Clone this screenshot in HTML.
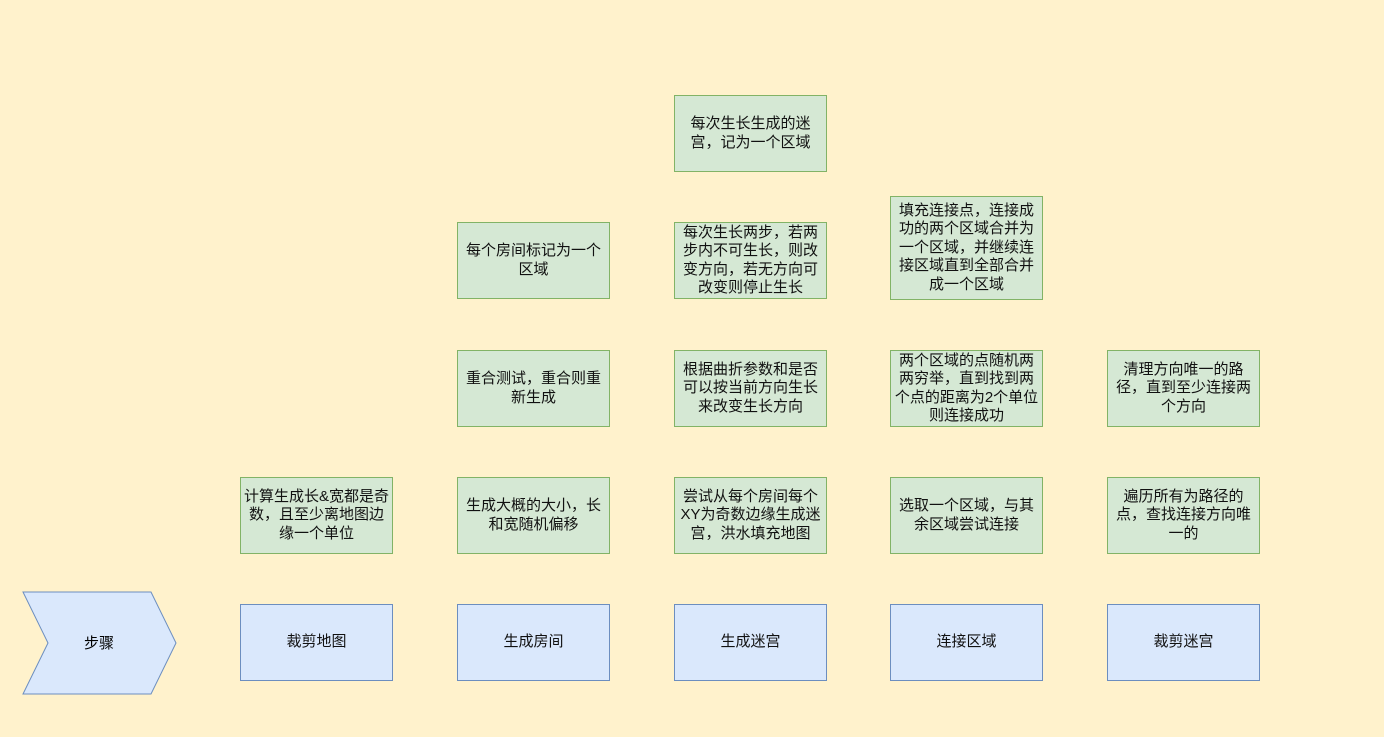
<!DOCTYPE html>
<html><head><meta charset="utf-8"><style>
body{margin:0;width:1384px;height:737px;background:#fff2cc;position:relative;overflow:hidden;font-family:"Liberation Sans","Noto Sans CJK SC",sans-serif;font-size:15px;color:#111}
.b{position:absolute;width:151px;height:75px;display:flex;align-items:center;justify-content:center;text-align:center;line-height:18.5px;box-sizing:content-box;white-space:nowrap}
.g{background:#d5e8d4;border:1px solid #82b366}
.u{background:#dae8fc;border:1px solid #6c8ebf}
</style></head><body>
<svg style="position:absolute;left:0;top:0" width="1384" height="737"><polygon points="23,592 151,592 176,643 151,694 23,694 48,643" fill="#dae8fc" stroke="#6c8ebf"/><text x="99" y="648" text-anchor="middle" font-size="15" font-family="Liberation Sans,Noto Sans CJK SC,sans-serif">步骤</text></svg>
<div class="b g" style="left:674px;top:95px">每次生长生成的迷<br>宫，记为一个区域</div>
<div class="b g" style="left:457px;top:222px">每个房间标记为一个<br>区域</div>
<div class="b g" style="left:674px;top:222px">每次生长两步，若两<br>步内不可生长，则改<br>变方向，若无方向可<br>改变则停止生长</div>
<div class="b g" style="left:890px;top:196px;height:102px">填充连接点，连接成<br>功的两个区域合并为<br>一个区域，并继续连<br>接区域直到全部合并<br>成一个区域</div>
<div class="b g" style="left:457px;top:350px">重合测试，重合则重<br>新生成</div>
<div class="b g" style="left:674px;top:350px">根据曲折参数和是否<br>可以按当前方向生长<br>来改变生长方向</div>
<div class="b g" style="left:890px;top:350px">两个区域的点随机两<br>两穷举，直到找到两<br>个点的距离为2个单位<br>则连接成功</div>
<div class="b g" style="left:1107px;top:350px">清理方向唯一的路<br>径，直到至少连接两<br>个方向</div>
<div class="b g" style="left:240px;top:477px">计算生成长&amp;宽都是奇<br>数，且至少离地图边<br>缘一个单位</div>
<div class="b g" style="left:457px;top:477px">生成大概的大小，长<br>和宽随机偏移</div>
<div class="b g" style="left:674px;top:477px">尝试从每个房间每个<br>XY为奇数边缘生成迷<br>宫，洪水填充地图</div>
<div class="b g" style="left:890px;top:477px">选取一个区域，与其<br>余区域尝试连接</div>
<div class="b g" style="left:1107px;top:477px">遍历所有为路径的<br>点，查找连接方向唯<br>一的</div>
<div class="b u" style="left:240px;top:604px">裁剪地图</div>
<div class="b u" style="left:457px;top:604px">生成房间</div>
<div class="b u" style="left:674px;top:604px">生成迷宫</div>
<div class="b u" style="left:890px;top:604px">连接区域</div>
<div class="b u" style="left:1107px;top:604px">裁剪迷宫</div>
</body></html>
